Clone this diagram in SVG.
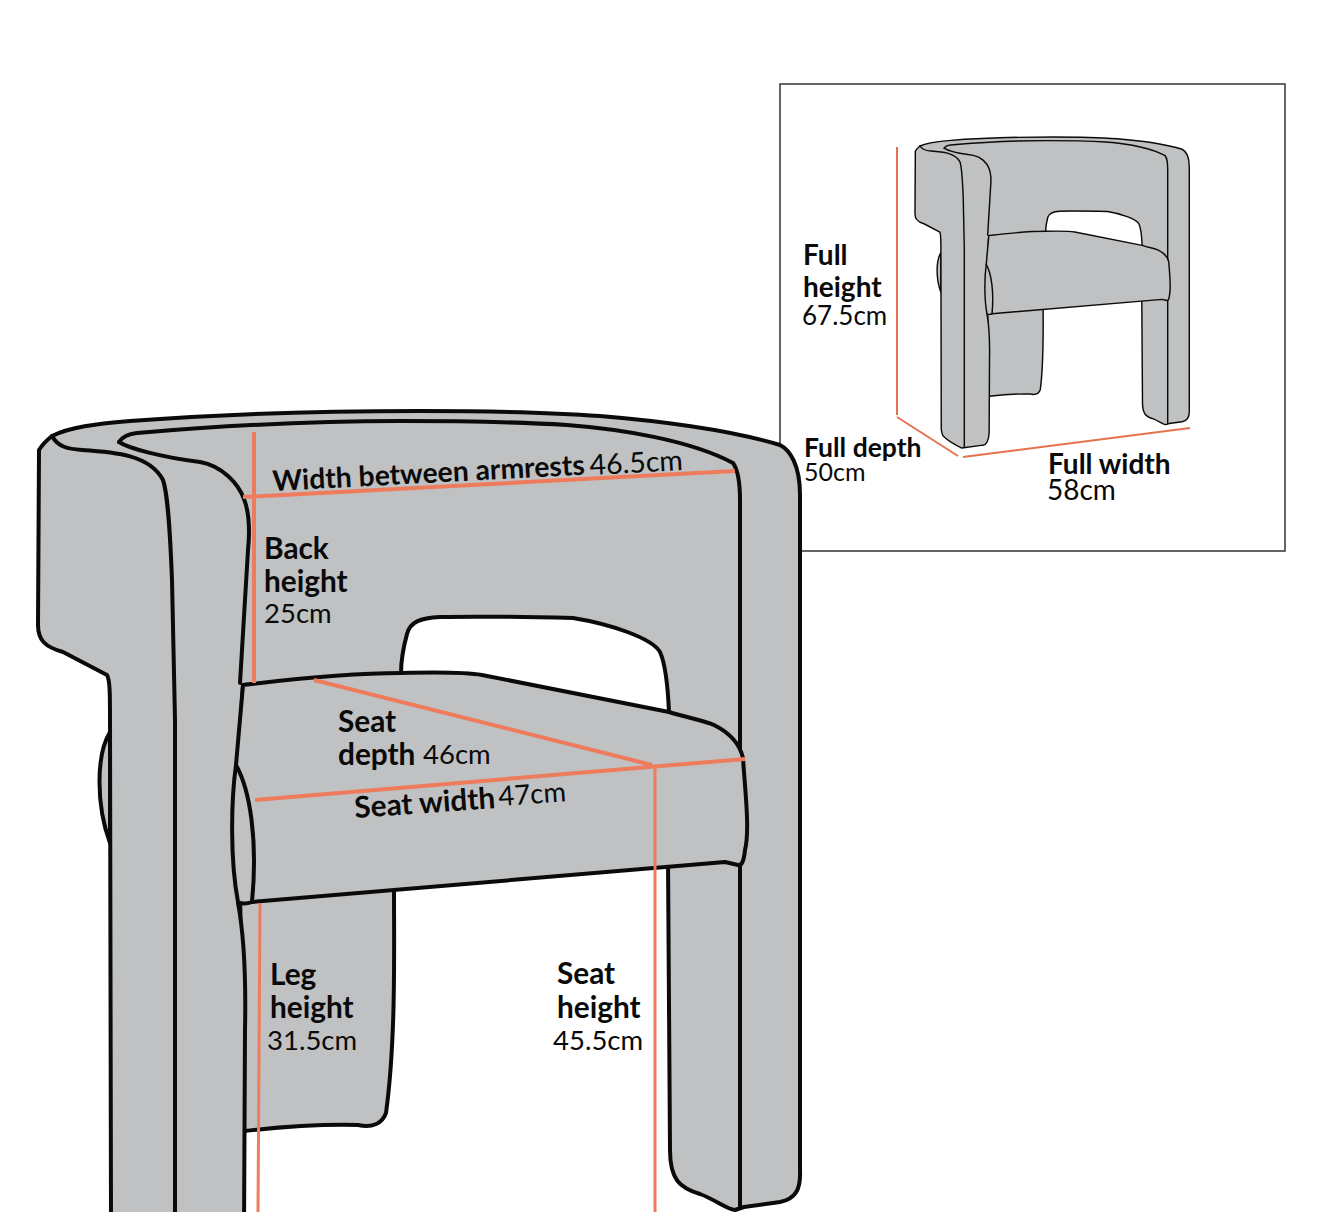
<svg xmlns="http://www.w3.org/2000/svg" xmlns:xlink="http://www.w3.org/1999/xlink" width="1320" height="1212" viewBox="0 0 1320 1212">
<style>
.c{fill:#bfc1c2;stroke:#0a0a0a;stroke-width:4;stroke-linejoin:round;stroke-linecap:round}
.l{fill:none;stroke:#0a0a0a;stroke-width:4;stroke-linecap:round;stroke-linejoin:round}
.o{fill:none;stroke:#ee7c5c;stroke-width:4;stroke-linecap:butt}
.o3{fill:none;stroke:#ee7c5c;stroke-width:3}
.i{fill:none;stroke:#e5714f;stroke-width:2}
text{font-family:"Lato","Liberation Sans",sans-serif;fill:#0a0a0a;font-size:28px}
.b{font-weight:700;font-size:29.8px}
.n{font-weight:400;font-size:27.5px}
</style>
<defs>
<g id="chair">
<path class="c" d="M110,732C96,755 96,805 110,843Z"/>
<path class="c" d="M240,890L394,888C394,950 396,1040 386,1113C382,1124 372,1128 358,1125C320,1124 280,1127 244,1131Z"/>
<path class="c" d="M52,436C70,427 95,424 130,421C220,414 320,411 420,411C500,411 560,413 600,416C660,421 730,430 780,445C790,450 800,465 800,495L800,1170C801,1190 795,1199 780,1202L744,1207L735,1210C728,1210 716,1200 700,1194C680,1188 670,1180 670,1150L668,860L669,712C668,690 666,665 660,652C652,638 610,624 573,618C530,617 480,616 440,617C420,618 410,622 407,634C404,645 401,660 401,673L243,685L238,765L238,903C245,940 246,980 245,1030L244,1233C243,1255 235,1267 227,1267L168,1275C140,1262 128,1252 120,1245C113,1240 112,1232 111,1222L110,720C110,695 110,680 107,675L63,652C45,647 38,640 38,625L39,450C42,445 47,440 52,436Z"/>
<path class="l" d="M52,436C58,447 68,449 82,450C115,452 150,455 163,480C168,495 170,530 172,580L175,720L175,1272"/>
<path class="l" d="M119,442C122,437 128,434 137,433C220,426 320,421 400,421C470,421 520,422 567,425C620,429 690,440 733,463C738,470 740,485 740,500L740,1207"/>
<path class="l" d="M119,442C128,448 160,457 200,462C222,466 238,483 244,499C249,512 250,530 248,550L240,683"/>
<path class="c" d="M243,685C300,678 360,673 401,673C440,672 465,672 482,675L669,712C685,717 705,721 714,725C730,733 740,745 743,758C745,790 750,830 745,850C744,860 742,866 738,865L725,862L252,902C247,904 241,904 238,902C230,860 231,800 236,765Z"/>
<path class="l" d="M236,765C250,790 258,840 252,902"/>
</g>
</defs>
<g id="inset">
<rect x="780" y="84" width="505" height="467" fill="#fff" stroke="#333" stroke-width="1.5"/>
<use id="inset-chair" xlink:href="#chair" href="#chair" transform="translate(901.3,-10.96) scale(0.36)"/>
<path class="i" d="M897,147L897,415M897,417L958,456M963,457L1190,428"/>
<text class="b" style="font-size:28px" x="803" y="265">Full</text>
<text class="b" style="font-size:28px" x="803" y="297">height</text>
<text class="n" style="font-size:26px" x="802" y="325">67.5cm</text>
<text class="b" style="font-size:26.5px" x="804" y="457">Full depth</text>
<text class="n" style="font-size:25px" x="804" y="481">50cm</text>
<text class="b" style="font-size:28px" x="1048" y="474">Full width</text>
<text class="n" style="font-size:28px" x="1047" y="500">58cm</text>
</g>
<g id="main-chair"><use xlink:href="#chair" href="#chair"/></g>
<g id="dimensions">
<path class="o" d="M254,432L254,683M243,497L735,471M314,680L652,765M255,800L745,759"/>
<path class="o3" d="M655,765L655,1212M260,903L258,1212"/>
</g>
<g id="labels">
<text class="b" style="font-size:28.3px" x="273" y="491" transform="rotate(-3 273 491)">Width between armrests</text>
<text class="n" style="font-size:28.5px" x="590" y="475" transform="rotate(-3 590 475)">46.5cm</text>
<text class="b" x="264" y="559">Back</text>
<text class="b" x="264" y="592">height</text>
<text class="n" x="264" y="623">25cm</text>
<text class="b" x="338" y="732">Seat</text>
<text class="b" x="338" y="765">depth</text>
<text class="n" x="423" y="764">46cm</text>
<text class="b" x="355" y="818" transform="rotate(-4 355 818)">Seat width</text>
<text class="n" x="499" y="806" transform="rotate(-4 499 806)">47cm</text>
<text class="b" x="270" y="985">Leg</text>
<text class="b" x="270" y="1018">height</text>
<text class="n" x="267" y="1050">31.5cm</text>
<text class="b" x="557" y="984">Seat</text>
<text class="b" x="557" y="1018">height</text>
<text class="n" x="553" y="1050">45.5cm</text>
</g>
</svg>
